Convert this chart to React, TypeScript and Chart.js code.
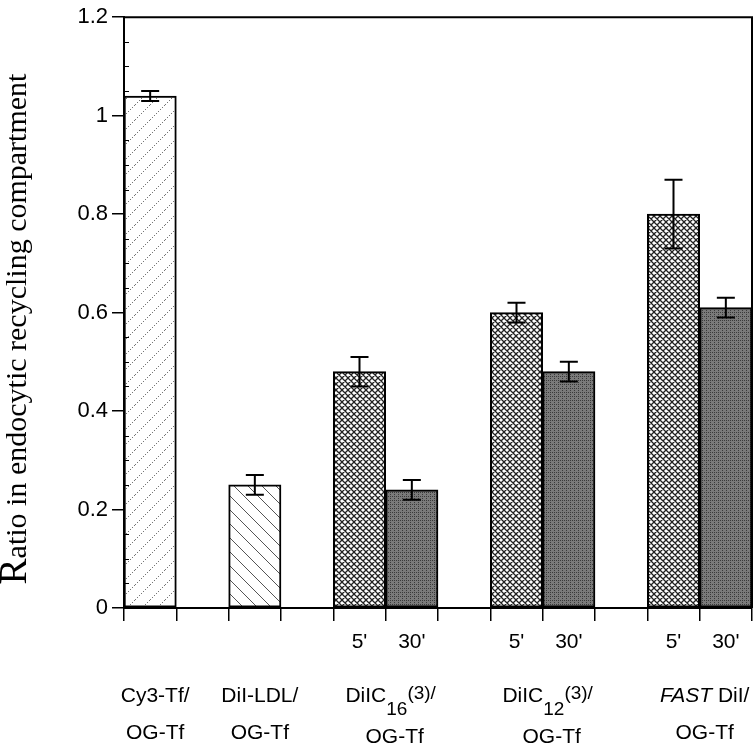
import React, { useEffect, useRef } from 'react';
import { Chart, registerables } from 'chart.js';

Chart.register(...registerables);

// ---- data ----
const slotLabels = ['', '', '', '', "5'", "30'", '', "5'", "30'", '', "5'", "30'"];
const ratioValues = [1.04, null, 0.25, null, 0.48, 0.24, null, 0.6, 0.48, null, 0.8, 0.61];
const ratioErrors = [0.01, null, 0.02, null, 0.03, 0.02, null, 0.02, 0.02, null, 0.07, 0.02];
const barKinds = ['cy3', null, 'ldl', null, 'early', 'late', null, 'early', 'late', null, 'early', 'late'];
const yTickValues = [0, 0.2, 0.4, 0.6, 0.8, 1, 1.2];
const groupSlots = [0, 2, 4.5, 7.5, 10.5];
const groupLine1 = [
  [{ t: 'Cy3-Tf/' }],
  [{ t: 'DiI-LDL/' }],
  [{ t: 'DiIC' }, { t: '16', sub: true }, { t: '(3)/', sup: true }],
  [{ t: 'DiIC' }, { t: '12', sub: true }, { t: '(3)/', sup: true }],
  [{ t: 'FAST', italic: true }, { t: ' DiI/' }],
];
const groupLine2 = ['OG-Tf', 'OG-Tf', 'OG-Tf', 'OG-Tf', 'OG-Tf'];
const yTitleFirst = 'R';
const yTitleRest = 'atio in endocytic recycling compartment';

const SANS = '"Liberation Sans", Arial, Helvetica, sans-serif';
const SERIF = '"Liberation Serif", "Times New Roman", Times, serif';

function makeTile(size: number, draw: (c: CanvasRenderingContext2D, s: number) => void) {
  const cv = document.createElement('canvas');
  cv.width = size;
  cv.height = size;
  const c = cv.getContext('2d')!;
  draw(c, size);
  return cv;
}

function buildPatterns(ctx: CanvasRenderingContext2D) {
  const cy3 = makeTile(15, (c, s) => {
    c.fillStyle = '#fff';
    c.fillRect(0, 0, s, s);
    c.fillStyle = '#777';
    for (let k = 0; k < s; k += 2) {
      c.fillRect(k, s - 1 - k, 1, 1);
    }
  });
  const ldl = makeTile(14, (c, s) => {
    c.fillStyle = '#fff';
    c.fillRect(0, 0, s, s);
    c.strokeStyle = '#555';
    c.lineWidth = 1;
    c.beginPath();
    c.moveTo(0, 0);
    c.lineTo(s, s);
    c.moveTo(-2, s - 2);
    c.lineTo(2, s + 2);
    c.moveTo(s - 2, -2);
    c.lineTo(s + 2, 2);
    c.stroke();
  });
  const early = makeTile(6, (c, s) => {
    c.fillStyle = '#fff';
    c.fillRect(0, 0, s, s);
    c.strokeStyle = '#222';
    c.lineWidth = 1.3;
    c.beginPath();
    c.moveTo(0, 0); c.lineTo(s, s);
    c.moveTo(0, s); c.lineTo(s, 0);
    c.moveTo(-1, s - 1); c.lineTo(1, s + 1);
    c.moveTo(s - 1, -1); c.lineTo(s + 1, 1);
    c.moveTo(-1, 1); c.lineTo(1, -1);
    c.moveTo(s - 1, s + 1); c.lineTo(s + 1, s - 1);
    c.stroke();
  });
  const late = makeTile(4, (c, s) => {
    c.fillStyle = '#7a7a7a';
    c.fillRect(0, 0, s, s);
    c.fillStyle = '#3a3a3a';
    c.fillRect(0, 0, 1, 1);
    c.fillRect(2, 2, 1, 1);
    c.fillRect(2, 0, 1, 1);
  });
  return {
    cy3: ctx.createPattern(cy3, 'repeat'),
    ldl: ctx.createPattern(ldl, 'repeat'),
    early: ctx.createPattern(early, 'repeat'),
    late: ctx.createPattern(late, 'repeat'),
  } as Record<string, CanvasPattern | null>;
}

const decorPlugin = {
  id: 'decor',
  afterDatasetsDraw(chart: any) {
    const ctx: CanvasRenderingContext2D = chart.ctx;
    const { left, right, top, bottom } = chart.chartArea;
    const y = chart.scales.y;
    const meta = chart.getDatasetMeta(0);
    ctx.save();
    // error bars
    ctx.strokeStyle = '#000';
    ctx.lineWidth = 2;
    ratioValues.forEach((v, i) => {
      const e = ratioErrors[i];
      if (v == null || e == null) return;
      const px = meta.data[i].x;
      const y1 = y.getPixelForValue(v + e);
      const y2 = y.getPixelForValue(v - e);
      ctx.beginPath();
      ctx.moveTo(px, y1);
      ctx.lineTo(px, y2);
      ctx.moveTo(px - 9, y1);
      ctx.lineTo(px + 9, y1);
      ctx.moveTo(px - 9, y2);
      ctx.lineTo(px + 9, y2);
      ctx.stroke();
    });
    // frame top and right
    ctx.beginPath();
    ctx.moveTo(left, top);
    ctx.lineTo(right, top);
    ctx.lineTo(right, bottom);
    ctx.stroke();
    // minor ticks (inward)
    ctx.lineWidth = 1;
    for (let k = 1; k < 24; k++) {
      if (k % 4 === 0) continue;
      const py = Math.round(y.getPixelForValue(k * 0.05)) + 0.5;
      ctx.beginPath();
      ctx.moveTo(left, py);
      ctx.lineTo(left + 5, py);
      ctx.stroke();
    }
    ctx.restore();
  },
  afterDraw(chart: any) {
    const ctx: CanvasRenderingContext2D = chart.ctx;
    const x = chart.scales.x;
    const { bottom } = chart.chartArea;
    ctx.save();
    ctx.fillStyle = '#000';
    ctx.textBaseline = 'alphabetic';
    ctx.textAlign = 'left';
    const size = 21;
    groupSlots.forEach((slot, i) => {
      const cx = x.getPixelForValue(slot) + 5;
      const segs = groupLine1[i] as any[];
      const fontFor = (s: any) =>
        `${s.italic ? 'italic ' : ''}${s.sub || s.sup ? size - 2 : size}px ${SANS}`;
      let total = 0;
      segs.forEach((s) => {
        ctx.font = fontFor(s);
        total += ctx.measureText(s.t).width;
      });
      let cur = cx - total / 2;
      const base1 = bottom + 94;
      segs.forEach((s) => {
        ctx.font = fontFor(s);
        const dy = s.sub ? 13 : s.sup ? -3 : 0;
        ctx.fillText(s.t, cur, base1 + dy);
        cur += ctx.measureText(s.t).width;
      });
      const hasSub = segs.some((s) => s.sub);
      ctx.font = `${size}px ${SANS}`;
      ctx.textAlign = 'center';
      ctx.fillText(groupLine2[i], cx + (hasSub ? 4 : 0), bottom + (hasSub ? 135 : 131));
      ctx.textAlign = 'left';
    });
    // y-axis title
    ctx.translate(26, 329);
    ctx.rotate(-Math.PI / 2);
    const big = `39px ${SERIF}`;
    const small = `30px ${SERIF}`;
    ctx.font = big;
    const w1 = ctx.measureText(yTitleFirst).width;
    ctx.font = small;
    const w2 = ctx.measureText(yTitleRest).width;
    const sx = -(w1 + w2) / 2;
    ctx.font = big;
    ctx.fillText(yTitleFirst, sx, 0);
    ctx.font = small;
    ctx.fillText(yTitleRest, sx + w1, 0);
    ctx.restore();
  },
};

export default function App() {
  const canvasRef = useRef<HTMLCanvasElement | null>(null);
  useEffect(() => {
    const canvas = canvasRef.current!;
    const ctx = canvas.getContext('2d')!;
    const pats = buildPatterns(ctx);
    const chart = new Chart(ctx, {
      type: 'bar',
      data: {
        labels: slotLabels,
        datasets: [
          {
            data: ratioValues as any,
            backgroundColor: barKinds.map((k) => (k ? (pats[k] as any) : 'transparent')),
            borderColor: '#000',
            borderWidth: 2,
            borderSkipped: false,
            barPercentage: 1,
            categoryPercentage: 1,
          },
        ],
      },
      options: {
        responsive: false,
        animation: false,
        layout: { padding: { left: 0, right: 4, top: 11, bottom: 0 } },
        plugins: { legend: { display: false }, tooltip: { enabled: false }, title: { display: false } },
        scales: {
          x: {
            type: 'category',
            offset: true,
            grid: {
              offset: true,
              drawOnChartArea: false,
              drawTicks: true,
              tickLength: 13,
              color: '#000',
              lineWidth: 1.5,
            },
            border: { display: true, color: '#000', width: 2 },
            ticks: {
              color: '#000',
              font: { family: SANS, size: 21 },
              padding: 9,
              maxRotation: 0,
              autoSkip: false,
            },
            afterFit: (scale: any) => {
              scale.height = 139;
            },
          },
          y: {
            min: 0,
            max: 1.2,
            afterBuildTicks: (scale: any) => {
              scale.ticks = yTickValues.map((v) => ({ value: v }));
            },
            grid: {
              drawOnChartArea: false,
              drawTicks: true,
              tickLength: 12,
              color: '#000',
              lineWidth: 1.5,
            },
            border: { display: true, color: '#000', width: 2 },
            ticks: {
              color: '#000',
              font: { family: SANS, size: 22 },
              padding: 4,
              callback: (v: any) => String(Math.round(Number(v) * 10) / 10),
            },
            afterFit: (scale: any) => {
              scale.width = 124;
            },
          },
        },
      },
      plugins: [decorPlugin],
    });
    return () => chart.destroy();
  }, []);
  return (
    <div style={{ position: 'absolute', left: 0, top: 0, width: 756, height: 747, background: '#fff' }}>
      <canvas ref={canvasRef} width={756} height={747} style={{ display: 'block' }} />
    </div>
  );
}
